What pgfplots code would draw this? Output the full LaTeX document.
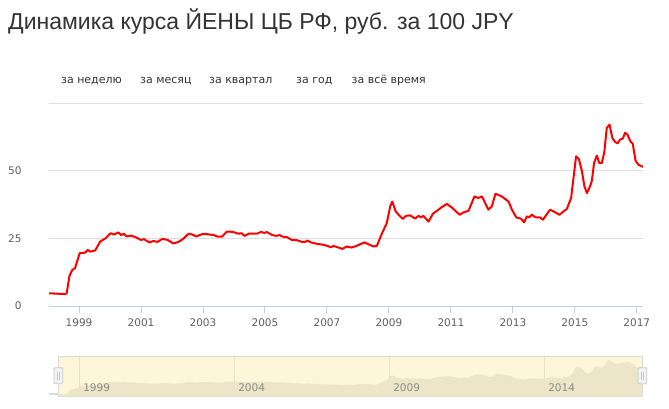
\documentclass[border=0pt]{standalone}
\usepackage{pgfplots}
\pgfplotsset{compat=1.18}
\usepackage{pgfplotstable}
\usepackage{fontspec}
\setmainfont{DejaVu Sans}
\newfontfamily\titlefont{Liberation Sans}
\definecolor{titlegray}{RGB}{51,51,51}
\definecolor{tickgray}{RGB}{96,96,96}
\definecolor{gridgray}{RGB}{222,222,226}
\definecolor{axisblue}{RGB}{192,208,224}
\definecolor{navbg}{RGB}{253,246,217}
\definecolor{navfill}{RGB}{236,229,199}
\definecolor{navgrid}{RGB}{232,224,196}
\definecolor{navborder}{RGB}{218,218,218}
\definecolor{navlabel}{RGB}{140,140,140}
\definecolor{handlefill}{RGB}{242,242,242}
\definecolor{handleborder}{RGB}{200,200,200}

\pgfplotstableread{
x y
1998.03 4.7
1998.55 4.4
1998.60 4.7
1998.69 11.1
1998.78 13.3
1998.87 14.0
1999.02 19.5
1999.19 19.7
1999.28 20.7
1999.36 20.1
1999.52 20.5
1999.68 23.8
1999.84 24.9
2000.02 26.9
2000.13 26.4
2000.27 27.2
2000.36 26.2
2000.44 26.7
2000.54 25.7
2000.68 26.0
2000.83 25.4
2001.00 24.4
2001.10 24.7
2001.26 23.5
2001.40 24.0
2001.53 23.7
2001.69 24.8
2001.86 24.4
2002.04 23.1
2002.21 23.7
2002.37 24.9
2002.53 26.7
2002.65 26.4
2002.78 25.7
2003.01 26.7
2003.21 26.4
2003.36 26.2
2003.44 25.7
2003.61 25.6
2003.77 27.5
2003.96 27.4
2004.14 26.7
2004.25 26.9
2004.34 25.9
2004.47 26.7
2004.74 26.7
2004.87 27.4
2004.97 27.0
2005.06 27.3
2005.22 26.3
2005.36 25.9
2005.47 26.2
2005.58 25.6
2005.72 25.4
2005.88 24.3
2006.03 24.3
2006.19 23.7
2006.30 23.7
2006.37 24.2
2006.48 23.5
2006.67 23.0
2006.89 22.6
2007.02 22.2
2007.13 21.7
2007.21 22.2
2007.50 21.1
2007.64 22.0
2007.78 21.6
2007.93 22.1
2008.07 22.8
2008.21 23.5
2008.34 22.8
2008.50 22.0
2008.61 22.2
2008.77 26.7
2008.93 30.6
2009.04 36.8
2009.11 38.6
2009.22 34.9
2009.36 33.1
2009.45 32.2
2009.55 33.3
2009.68 33.5
2009.85 32.3
2009.95 33.3
2010.04 32.8
2010.11 33.3
2010.28 31.2
2010.42 34.1
2010.60 35.6
2010.71 36.6
2010.87 37.7
2011.03 36.4
2011.28 33.7
2011.41 34.6
2011.57 35.2
2011.76 40.5
2011.89 39.9
2012.00 40.5
2012.21 35.6
2012.32 36.8
2012.44 41.5
2012.64 40.5
2012.86 38.6
2012.97 35.6
2013.11 32.7
2013.26 32.3
2013.36 30.9
2013.45 33.1
2013.54 32.8
2013.61 33.8
2013.72 32.8
2013.88 32.7
2013.97 31.9
2014.07 33.5
2014.20 35.6
2014.37 34.6
2014.50 33.7
2014.66 35.2
2014.74 35.8
2014.88 39.9
2015.04 55.3
2015.13 54.3
2015.23 49.7
2015.31 44.2
2015.39 41.7
2015.49 44.2
2015.55 46.3
2015.62 52.8
2015.71 55.6
2015.79 52.8
2015.87 52.8
2015.95 56.8
2016.03 65.8
2016.12 67.0
2016.21 62.1
2016.30 60.6
2016.38 60.1
2016.46 61.5
2016.55 61.9
2016.62 64.0
2016.70 63.3
2016.79 60.9
2016.87 59.9
2016.96 53.7
2017.05 52.2
2017.20 51.4
}\rates

\begin{document}
\begin{tikzpicture}[x=1pt,y=1pt]
\path[use as bounding box] (0,0) rectangle (669,408);
\fill[white] (0,0) rectangle (669,408);

\node[anchor=base west, inner sep=0pt, text=titlegray,
      font=\titlefont\fontsize{23}{27}\selectfont] at (8,378.5)
      {Динамика курса ЙЕНЫ ЦБ РФ, руб. за 100 JPY};

\begin{scope}[every node/.style={anchor=base west, inner sep=0pt, text=titlegray, font=\fontsize{11}{13}\selectfont}]
\node at (61,325) {за неделю};
\node at (140,325) {за месяц};
\node at (209,325) {за квартал};
\node at (296,325) {за год};
\node at (351.5,325) {за всё время};
\end{scope}

\begin{axis}[
  at={(49pt,102pt)}, anchor=south west,
  scale only axis, width=594pt, height=203pt,
  xmin=1998.03, xmax=2017.2, ymin=0, ymax=75,
  xtick={1999,2001,2003,2005,2007,2009,2011,2013,2015,2017},
  xticklabels={1999,2001,2003,2005,2007,2009,2011,2013,2015,2017},
  ytick={0,25,50,75},
  yticklabels={0,25,50,{}},
  axis x line*=bottom, axis y line*=left,
  x axis line style={draw=axisblue, line width=1pt, -},
  y axis line style={draw=none},
  xtick style={draw=axisblue, line width=1pt},
  ytick style={draw=none},
  tick align=outside,
  major tick length=7pt,
  ymajorgrids,
  major grid style={draw=gridgray, line width=0.9pt},
  tick label style={font=\fontsize{10.5}{12}\selectfont, text=tickgray},
  yticklabel style={xshift=-17pt},
  xticklabel style={yshift=-2pt},
]
\addplot[draw=red, line width=2pt, line join=round] table {\rates};
\end{axis}

\begin{axis}[
  at={(58.3pt,11.3pt)}, anchor=south west,
  scale only axis, width=584pt, height=40.7pt,
  xmin=1998.32, xmax=2017.16, ymin=0, ymax=74,
  axis background/.style={fill=navbg},
  axis line style={draw=navborder, line width=0.9pt},
  xtick={1999,2004,2009,2014}, xticklabels={},
  ytick=\empty,
  major tick length=0pt,
  xmajorgrids,
  major grid style={draw=navgrid, line width=0.9pt},
]
\addplot[fill=navfill, draw=none] table {\rates} \closedcycle;
\begin{scope}[every node/.style={anchor=base west, inner sep=0pt, text=navlabel, font=\fontsize{10.5}{12}\selectfont}]
\node at (axis cs:1999,0) [xshift=3.7pt, yshift=5pt] {1999};
\node at (axis cs:2004,0) [xshift=3.7pt, yshift=5pt] {2004};
\node at (axis cs:2009,0) [xshift=3.7pt, yshift=5pt] {2009};
\node at (axis cs:2014,0) [xshift=3.7pt, yshift=5pt] {2014};
\end{scope}
\end{axis}

\draw[draw=navborder, line width=1.5pt] (49,14) -- (58,14);
\draw[fill=handlefill, draw=handleborder, line width=0.8pt, rounded corners=1pt] (54,24.3) rectangle (62.7,40.3);
\draw[draw=handleborder, line width=0.6pt] (57.4,28.5) -- (57.4,36) (59.4,28.5) -- (59.4,36);
\draw[fill=handlefill, draw=handleborder, line width=0.8pt, rounded corners=1pt] (638,24.3) rectangle (646.7,40.3);
\draw[draw=handleborder, line width=0.6pt] (641.4,28.5) -- (641.4,36) (643.4,28.5) -- (643.4,36);
\end{tikzpicture}
\end{document}
